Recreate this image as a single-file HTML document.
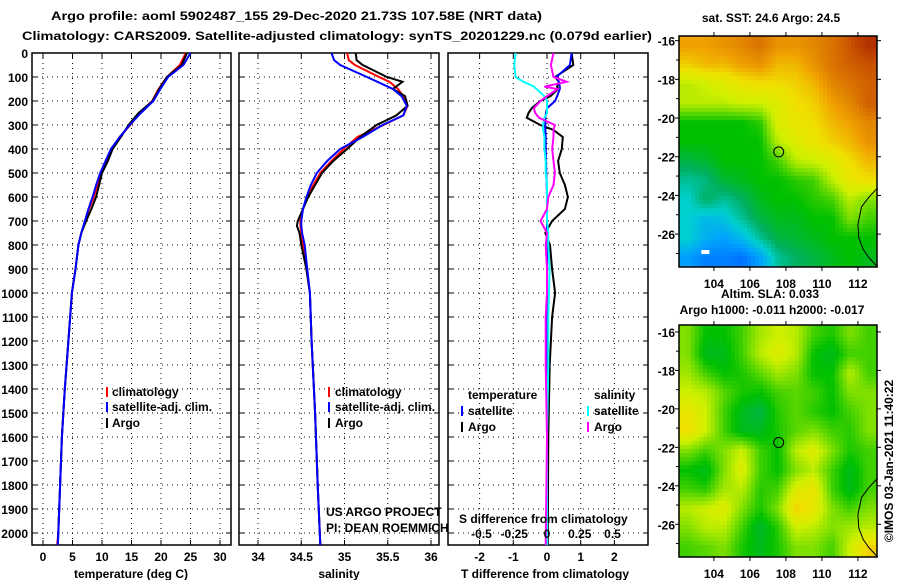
<!DOCTYPE html>
<html><head><meta charset="utf-8"><style>
html,body{margin:0;padding:0;background:#fff}
svg{display:block}
text{font-family:"Liberation Sans",sans-serif;font-weight:bold;font-size:12px;fill:#000}
</style></head><body>
<svg id="c" width="900" height="580" viewBox="0 0 900 580" xmlns="http://www.w3.org/2000/svg">
<text x="51" y="20" font-size="14" textLength="491" lengthAdjust="spacingAndGlyphs">Argo profile: aoml 5902487_155 29-Dec-2020 21.73S 107.58E (NRT data)</text>
<text x="22" y="40" font-size="14" textLength="630" lengthAdjust="spacingAndGlyphs">Climatology: CARS2009. Satellite-adjusted climatology: synTS_20201229.nc (0.079d earlier)</text>
<g id="g"></g>
</svg>
<script>
// ---- data ----
const depthTicks=[0,100,200,300,400,500,600,700,800,900,1000,1100,1200,1300,1400,1500,1600,1700,1800,1900,2000];
const tempTicks=[0,5,10,15,20,25,30];
const salTicks=[34,34.5,35,35.5,36];
const tdTicks=[-2,-1,0,1,2];
const sdTicks=[-0.5,-0.25,0,0.25,0.5];
const sdTickLabels=["-0.5","-0.25","0","0.25","0.5"];

const tDepth=[0,50,100,150,200,250,300,350,400,450,500,550,600,650,700,750,800,900,1000,1200,1400,1600,1800,2000,2050];
const tArgo=[24.4,23.5,21.0,19.7,18.6,16.2,14.5,13.2,11.8,11.0,10.0,9.5,9.0,8.2,7.3,6.5,6.0,5.5,4.9,4.3,3.7,3.2,2.9,2.6,2.5];
const tClim=[24.2,23.2,21.0,19.6,18.5,16.4,14.8,13.0,11.6,10.7,9.8,9.2,8.6,7.8,7.1,6.5,6.0,5.5,4.9,4.3,3.7,3.2,2.9,2.6,2.4];
const tSat=[25.0,23.8,21.2,19.9,18.7,16.6,14.7,13.0,11.5,10.6,9.7,9.0,8.4,7.7,7.1,6.5,6.0,5.5,4.9,4.3,3.7,3.2,2.9,2.6,2.5];

const sDepth=[0,30,50,100,120,150,180,220,260,300,350,400,450,500,550,600,650,700,720,750,800,900,1000,1200,1500,1800,2050];
const sArgo=[35.13,35.14,35.21,35.49,35.67,35.56,35.70,35.73,35.60,35.37,35.18,35.03,34.87,34.74,34.66,34.58,34.52,34.46,34.45,34.48,34.50,34.56,34.60,34.62,34.66,34.69,34.72];
const sClim=[35.03,35.05,35.12,35.40,35.52,35.62,35.68,35.73,35.68,35.45,35.15,34.99,34.85,34.72,34.64,34.57,34.52,34.49,34.49,34.50,34.52,34.56,34.60,34.62,34.66,34.69,34.72];
const sSat=[34.85,34.88,34.95,35.26,35.38,35.56,35.66,35.72,35.68,35.44,35.21,34.95,34.80,34.68,34.61,34.56,34.52,34.50,34.50,34.51,34.54,34.57,34.60,34.62,34.66,34.69,34.72];

const dDepth=[0,50,100,120,140,150,180,200,230,250,270,300,320,350,400,450,500,550,600,650,700,750,800,900,1000,1100,1300,1600,2050];
const dTArgo=[0.73,0.78,0.24,0.35,0.30,0.33,0.1,-0.2,-0.45,-0.55,-0.6,-0.2,0.18,0.47,0.44,0.33,0.38,0.53,0.62,0.53,0.15,-0.05,0.09,0.15,0.24,0.15,0.08,0.04,0.02];
const dTSat=[0.73,0.68,0.28,0.35,0.38,0.38,0.3,0.24,0.0,-0.03,-0.05,-0.05,-0.05,-0.04,-0.04,-0.03,-0.02,-0.01,0,0,0,0,0,0,0,0,0,0,0];
const dSSat=[-0.24,-0.25,-0.24,-0.18,-0.1,-0.08,-0.02,0.0,0.0,0.0,-0.02,-0.03,-0.03,-0.02,-0.02,-0.01,-0.01,0,0,0,0,0.01,0.01,0.02,0.015,0.01,0.01,0.0,0.0];
const dSArgo=[0.05,0.03,0.05,0.15,-0.02,0.08,0.0,-0.05,-0.1,-0.09,-0.06,0.06,0.05,0.05,0.04,0.05,0.06,0.05,0.01,0,-0.05,0,-0.01,0,0,-0.01,-0.01,0,-0.01];

// maps (rows: lat from north, cols: lon 102..113)
const sstGrid=[
[.78,.78,.8,.82,.85,.8,.8,.82,.85,.9,.95],
[.72,.75,.75,.78,.8,.75,.75,.8,.85,.88,.9],
[.6,.62,.65,.68,.7,.7,.72,.75,.82,.85,.88],
[.6,.6,.6,.62,.62,.65,.7,.72,.78,.82,.88],
[.45,.45,.45,.45,.48,.65,.68,.7,.75,.78,.82],
[.45,.45,.45,.45,.45,.6,.65,.68,.72,.75,.8],
[.38,.4,.45,.45,.45,.5,.6,.62,.65,.7,.75],
[.3,.32,.4,.42,.45,.45,.48,.5,.6,.68,.7],
[.25,.35,.3,.35,.42,.45,.45,.48,.5,.6,.55],
[.25,.2,.22,.3,.38,.42,.42,.45,.45,.55,.5],
[.25,.18,.15,.2,.3,.38,.4,.42,.45,.45,.45],
[.15,.1,.1,.08,.15,.3,.35,.38,.42,.45,.42]];
const slaGrid=[
[.55,.45,.45,.5,.58,.62,.6,.5,.47,.55,.5],
[.55,.42,.42,.5,.6,.65,.6,.45,.42,.5,.5],
[.58,.5,.45,.47,.52,.58,.55,.45,.45,.6,.5],
[.62,.6,.52,.47,.45,.5,.52,.5,.45,.55,.55],
[.68,.62,.5,.42,.38,.48,.52,.48,.45,.5,.55],
[.7,.62,.5,.42,.42,.47,.52,.55,.5,.48,.55],
[.55,.5,.55,.62,.5,.45,.6,.65,.55,.47,.5],
[.45,.42,.55,.65,.5,.45,.55,.6,.5,.42,.5],
[.5,.48,.58,.6,.48,.5,.65,.68,.5,.42,.5],
[.6,.62,.65,.55,.47,.55,.72,.68,.55,.5,.55],
[.55,.6,.6,.5,.4,.48,.62,.6,.55,.58,.6],
[.5,.52,.55,.47,.42,.47,.55,.55,.5,.62,.72]];
const coastLon=[113.1,112.6,112.2,112.0,112.05,112.3,112.6,113.0,113.1];
const coastLat=[-23.6,-24.1,-24.6,-25.5,-26.2,-26.8,-27.2,-27.6,-27.7];
const floatLon=107.6, floatLat=-21.75;

// ---- drawing ----
const NS='http://www.w3.org/2000/svg';
const G=document.getElementById('g');
function mk(tag,at,parent){const e=document.createElementNS(NS,tag);for(const k in at)e.setAttribute(k,at[k]);(parent||G).appendChild(e);return e;}
function txt(x,y,s,anchor,name,extra){const e=mk('text',Object.assign({x:x,y:y,'text-anchor':anchor||'start'},extra||{}));e.textContent=s;


return e;}
const Y0=53, DY=0.24, YB=545;
const yD=d=>Y0+d*DY;
function panel(x0,x1,name){
 const g=mk('g',{});
 
 
 return g;}
function frame(g,x0,x1,gridXs){
 gridXs.forEach(x=>{mk('line',{x1:x,x2:x,y1:Y0,y2:YB,stroke:'#000','stroke-width':1,'stroke-dasharray':'1,4'},g);
  mk('line',{x1:x,x2:x,y1:Y0,y2:Y0+5,stroke:'#000'},g);mk('line',{x1:x,x2:x,y1:YB,y2:YB-5,stroke:'#000'},g);});
 depthTicks.forEach(d=>{const y=yD(d);mk('line',{x1:x0,x2:x1,y1:y,y2:y,stroke:'#000','stroke-width':1,'stroke-dasharray':'1,4'},g);
  mk('line',{x1:x0,x2:x0+5,y1:y,y2:y,stroke:'#000'},g);mk('line',{x1:x1-5,x2:x1,y1:y,y2:y,stroke:'#000'},g);});
 mk('rect',{x:x0,y:Y0,width:x1-x0,height:YB-Y0,fill:'none',stroke:'#000','stroke-width':1.5},g);
}
function line(g,xs,ds,fx,col,name,w){
 const pts=xs.map((v,i)=>fx(v).toFixed(1)+','+yD(ds[i]).toFixed(1)).join(' ');
 const p=mk('polyline',{points:pts,fill:'none',stroke:col,'stroke-width':w||2},g);
 
 
}
depthTicks.forEach(d=>txt(28,yD(d)+5,String(d),'end','depth-tick-label'));

// panel 1 temperature
const xT=t=>43+t*5.9;
const p1=panel(32,231,'temperature-panel');
frame(p1,32,231,tempTicks.map(xT));
line(p1,tClim,tDepth,xT,'#f00','temp-climatology-line');
line(p1,tArgo,tDepth,xT,'#000','temp-argo-line');
line(p1,tSat,tDepth,xT,'#00f','temp-satellite-line');
tempTicks.forEach(t=>txt(xT(t),561,String(t),'middle','temp-tick-label'));
txt(131,578,'temperature (deg C)','middle','temp-axis-title');
[['#f00','climatology',396],['#00f','satellite-adj. clim.',411],['#000','Argo',427]].forEach(a=>{
 mk('rect',{x:106,y:a[2]-9,width:2,height:10,fill:a[0]},p1);txt(112,a[2],a[1],'start','temp-legend-entry');});

// panel 2 salinity
const xS=s=>258+(s-34)*86.5;
const p2=panel(239,439,'salinity-panel');
frame(p2,239,439,salTicks.map(xS));
line(p2,sClim,sDepth,xS,'#f00','sal-climatology-line');
line(p2,sArgo,sDepth,xS,'#000','sal-argo-line');
line(p2,sSat,sDepth,xS,'#00f','sal-satellite-line');
salTicks.forEach(s=>txt(xS(s),561,String(s),'middle','sal-tick-label'));
txt(339,578,'salinity','middle','sal-axis-title');
[['#f00','climatology',396],['#00f','satellite-adj. clim.',411],['#000','Argo',427]].forEach(a=>{
 mk('rect',{x:328,y:a[2]-9,width:2,height:10,fill:a[0]},p2);txt(335,a[2],a[1],'start','sal-legend-entry');});
txt(326,516,'US ARGO PROJECT','start','project-credit',{'font-weight':'normal','font-size':'11.5'});
txt(326,532,'PI: DEAN ROEMMICH','start','pi-credit',{'font-weight':'normal','font-size':'11.5'});

// panel 3 differences
const xTD=v=>547+v*33.7, xSD=v=>547+v*131;
const p3=panel(448,648,'difference-panel');
frame(p3,448,648,tdTicks.map(xTD));
line(p3,dTArgo,dDepth,xTD,'#000','tdiff-argo-line');
line(p3,dTSat,dDepth,xTD,'#00f','tdiff-satellite-line');
line(p3,dSSat,dDepth,xSD,'#0ff','sdiff-satellite-line');
line(p3,dSArgo,dDepth,xSD,'#f0f','sdiff-argo-line');
tdTicks.forEach(v=>txt(xTD(v),561,String(v),'middle','tdiff-tick-label'));
sdTicks.forEach((v,i)=>txt(xSD(v),538,sdTickLabels[i],'middle','sdiff-tick-label'));
txt(459,523,'S difference from climatology','start','sdiff-axis-title');
txt(545,578,'T difference from climatology','middle','tdiff-axis-title');
txt(468,399,'temperature','start','tdiff-legend-title');
txt(594,399,'salinity','start','sdiff-legend-title');
[[461,'#00f','satellite',415],[461,'#000','Argo',431],[587,'#0ff','satellite',415],[587,'#f0f','Argo',431]].forEach(a=>{
 mk('rect',{x:a[0],y:a[3]-9,width:2,height:10,fill:a[1]},p3);txt(a[0]+7,a[3],a[2],'start','diff-legend-entry');});

// maps
const stops=[[0,[0,64,255]],[0.15,[0,160,255]],[0.25,[0,208,208]],[0.35,[0,176,96]],[0.45,[0,192,0]],[0.55,[128,224,0]],[0.62,[208,240,0]],[0.7,[240,224,0]],[0.78,[240,160,0]],[0.88,[208,96,0]],[1,[160,16,0]]];
function cmap(v){for(let i=1;i<stops.length;i++){if(v<=stops[i][0]){const a=stops[i-1],b=stops[i],f=(v-a[0])/(b[0]-a[0]);
 return 'rgb('+a[1].map((c,k)=>Math.round(c+(b[1][k]-c)*f)).join(',')+')';}}return 'rgb(160,16,0)';}
function sample(grid,u,v){ // u,v in cell units, bilinear between cell centers
 const nr=grid.length,nc=grid[0].length;
 let x=u-0.5,y=v-0.5;x=Math.max(0,Math.min(nc-1,x));y=Math.max(0,Math.min(nr-1,y));
 const c0=Math.floor(x),r0=Math.floor(y),c1=Math.min(nc-1,c0+1),r1=Math.min(nr-1,r0+1),fx=x-c0,fy=y-r0;
 return grid[r0][c0]*(1-fx)*(1-fy)+grid[r0][c1]*fx*(1-fy)+grid[r1][c0]*(1-fx)*fy+grid[r1][c1]*fx*fy;}
function map(grid,top,bot,latTop,name){
 const L=679,R=877,lon0=102.06,lon1=113.06,latBot=-27.7;
 const g=mk('g',{});
 
 
 const fx=lo=>L+(lo-lon0)*(R-L)/(lon1-lon0), fy=la=>top+(latTop-la)*(bot-top)/(latTop-latBot);
 const nc=grid[0].length,nr=grid.length,px=4;
 for(let y=top;y<bot;y+=px){for(let x=L;x<R;x+=px){
  const u=(x+px/2-L)/(R-L)*nc, v=(y+px/2-top)/(bot-top)*nr;
  const e=mk('rect',{x:x,y:y,width:Math.min(px,R-x)+0.3,height:Math.min(px,bot-y)+0.3,fill:cmap(sample(grid,u,v))},g);
  
  }}
 const cp=coastLon.map((lo,i)=>fx(lo).toFixed(1)+','+fy(coastLat[i]).toFixed(1)).join(' ');
 mk('polyline',{points:cp,fill:'none',stroke:'#000','stroke-width':1},g);
 mk('circle',{cx:fx(floatLon),cy:fy(floatLat),r:5,fill:'none',stroke:'#000','stroke-width':1},g);
 mk('rect',{x:L,y:top,width:R-L,height:bot-top,fill:'none',stroke:'#000','stroke-width':1.5},g);
 [104,106,108,110,112].forEach(lo=>{const x=fx(lo);mk('line',{x1:x,x2:x,y1:top,y2:top-4,stroke:'#000'},g);mk('line',{x1:x,x2:x,y1:bot,y2:bot+4,stroke:'#000'},g);
  txt(x,bot+21,String(lo),'middle','map-lon-label');});
 [-16,-18,-20,-22,-24,-26].forEach(la=>{const y=fy(la);mk('line',{x1:L,x2:L-4,y1:y,y2:y,stroke:'#000'},g);mk('line',{x1:R,x2:R+4,y1:y,y2:y,stroke:'#000'},g);
  txt(675,y+5,String(la),'end','map-lat-label');});
 [-17,-19,-21,-23,-25,-27].forEach(la=>{const y=fy(la);mk('line',{x1:L,x2:L-3,y1:y,y2:y,stroke:'#000'},g);});
 return fx;
}
const fx1=map(sstGrid,36,267,-15.76,'sst-map');
mk('rect',{x:fx1(103.3),y:250,width:8,height:4,fill:'#fff'});
map(slaGrid,325,557,-15.64,'sla-map');
txt(771,22,'sat. SST: 24.6 Argo: 24.5','middle','sst-map-title');
txt(770,298,'Altim. SLA: 0.033','middle','sla-value-label');
txt(772,314,'Argo h1000: -0.011 h2000: -0.017','middle','argo-height-label');
txt(0,0,'©IMOS 03-Jan-2021 11:40:22','middle','timestamp-credit',{transform:'translate(893,461) rotate(-90)','font-weight':'normal','font-size':'12'});
</script>
</body></html>
